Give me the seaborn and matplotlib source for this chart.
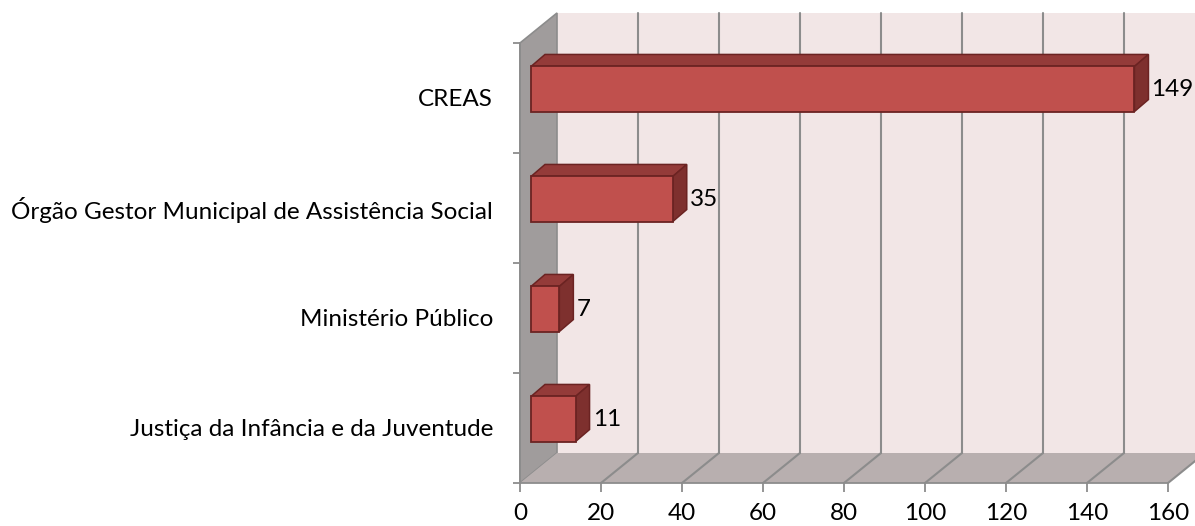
import matplotlib
matplotlib.use("Agg")
import matplotlib.pyplot as plt
import seaborn as sns
import pandas as pd
import numpy as np
from matplotlib.patches import Polygon, Rectangle
from matplotlib.transforms import offset_copy, IdentityTransform
from matplotlib.lines import Line2D

# ---- data ----
categories = ["CREAS",
              "Órgão Gestor Municipal de Assistência Social",
              "Ministério Público",
              "Justiça da Infância e da Juventude"]
values = [149, 35, 7, 11]
x_ticks = [0, 20, 40, 60, 80, 100, 120, 140, 160]

df = pd.DataFrame({"categoria": categories, "valor": values})

sns.set_theme(style="white")
plt.rcParams["font.family"] = ["Lato", "DejaVu Sans"]

W, H, DPI = 1195, 526, 100
fig = plt.figure(figsize=(W / DPI, H / DPI), dpi=DPI)
fig.patch.set_facecolor("white")
ax = fig.add_axes([520 / W, 43 / H, 648 / W, 440 / H])
ax.patch.set_visible(False)

XMAX = x_ticks[-1]
ax.set_xlim(0, XMAX)
ax.set_ylim(len(categories) - 0.5, -0.5)

# 3D depth offsets (display pixels, y up)
DX, DY = 37, 30          # full depth (back wall)
FX, FY = 11, 9           # bar front face depth
BX, BY = 14, 12          # bar thickness in depth

FS = 17.5

wall_c = "#F2E6E6"
floor_c = "#B8AFAF"
side_c = "#A09C9C"
grid_c = "#8C8C8C"
bar_c = "#C0504D"
top_c = "#943B39"
right_c = "#7E302E"
edge_c = "#6B2322"

T = ax.transData
ymin_d, ymax_d = -0.5, len(categories) - 0.5

def disp(x, y):
    return np.array(T.transform((x, y)), dtype=float)

off = np.array([DX, DY], dtype=float)
I = IdentityTransform()

# back wall
back = offset_copy(T, fig=fig, x=DX, y=DY, units="dots")
ax.add_patch(Rectangle((0, ymin_d), XMAX + 10, ymax_d - ymin_d, transform=back,
                       facecolor=wall_c, edgecolor="none", zorder=0, clip_on=False))

# left side wall
p_top, p_bot = disp(0, ymin_d), disp(0, ymax_d)
ax.add_patch(Polygon([p_top, p_top + off, p_bot + off, p_bot], closed=True,
                     transform=I, facecolor=side_c, edgecolor=grid_c, lw=1.2,
                     zorder=1, clip_on=False))

# floor
f_l, f_r = disp(0, ymax_d), disp(XMAX, ymax_d)
ax.add_patch(Polygon([f_l, f_r, f_r + off, f_l + off], closed=True,
                     transform=I, facecolor=floor_c, edgecolor="none",
                     zorder=1, clip_on=False))

# gridlines on back wall and floor
for v in x_ticks[1:]:
    a, b = disp(v, ymin_d) + off, disp(v, ymax_d) + off
    ax.add_line(Line2D([a[0], b[0]], [a[1], b[1]], transform=I, color=grid_c,
                       lw=1.5, zorder=2, clip_on=False))
    c = disp(v, ymax_d)
    ax.add_line(Line2D([c[0], b[0]], [c[1], b[1]], transform=I, color=grid_c,
                       lw=1.5, zorder=2, clip_on=False))

# bars
n_before = len(ax.patches)
sns.barplot(data=df, x="valor", y="categoria", orient="h", width=0.41,
            color=bar_c, saturation=1, edgecolor=edge_c, linewidth=1.3, ax=ax)
bars = list(ax.patches)[n_before:]

front = offset_copy(T, fig=fig, x=FX, y=FY, units="dots")
fo = np.array([FX, FY], dtype=float)
dep = np.array([BX, BY], dtype=float)
for p, v in zip(bars, values):
    p.set_transform(front)
    p.set_zorder(5)
    p.set_clip_on(False)
    x0, w, y0, h = p.get_x(), p.get_width(), p.get_y(), p.get_height()
    tl = disp(x0, y0) + fo
    tr = disp(x0 + w, y0) + fo
    br = disp(x0 + w, y0 + h) + fo
    ax.add_patch(Polygon([tl, tr, tr + dep, tl + dep], closed=True, transform=I,
                         facecolor=top_c, edgecolor=edge_c, lw=1.1, zorder=4,
                         clip_on=False))
    ax.add_patch(Polygon([tr, br, br + dep, tr + dep], closed=True, transform=I,
                         facecolor=right_c, edgecolor=edge_c, lw=1.1, zorder=4,
                         clip_on=False))
    lab = offset_copy(T, fig=fig, x=FX + BX + 3, y=FY, units="dots")
    ax.text(x0 + w, y0 + h / 2, f"{v}", transform=lab, ha="left", va="center",
            fontsize=FS, color="black", zorder=6)

ax.set_xlabel("")
ax.set_ylabel("")

# axes / ticks
for s in ["top", "right"]:
    ax.spines[s].set_visible(False)
for s in ["left", "bottom"]:
    ax.spines[s].set_color(grid_c)
    ax.spines[s].set_linewidth(1.3)
    ax.spines[s].set_zorder(3)

ax.set_xticks(x_ticks)
ax.set_xticklabels([str(t) for t in x_ticks])
ax.tick_params(axis="x", length=6.5, width=1.3, color=grid_c, pad=8,
               labelsize=FS, labelcolor="black", direction="out", bottom=True)
ax.set_yticks(range(len(categories)))
ax.set_yticklabels(categories)
ax.set_yticks(np.arange(-0.5, len(categories), 1.0), minor=True)
ax.tick_params(axis="y", which="major", length=0, pad=19.5, labelsize=FS,
               labelcolor="black")
ax.tick_params(axis="y", which="minor", length=5, width=1.3, color=grid_c,
               direction="out", left=True)

fig.savefig("out.png", dpi=DPI)
